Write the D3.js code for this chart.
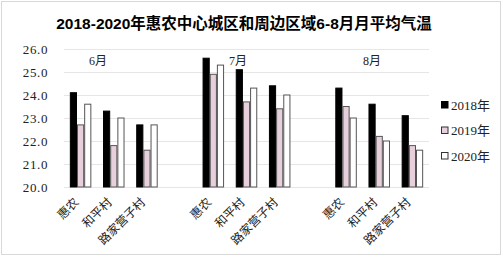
<!DOCTYPE html>
<html><head><meta charset="utf-8">
<script src="https://cdn.jsdelivr.net/npm/d3@7"></script>
<style>body{margin:0;background:#fff}svg{display:block}</style>
</head><body><svg id="c" width="503" height="257"></svg>
<script>
const title = "2018-2020年惠农中心城区和周边区域6-8月月平均气温";
const months = ["6月", "7月", "8月"];
const places = ["惠农", "和平村", "路家营子村"];
const seriesNames = ["2018年", "2019年", "2020年"];
const v2018 = [24.1, 23.3, 22.7, 25.6, 25.1, 24.4, 24.3, 23.6, 23.1];
const v2019 = [22.7, 21.8, 21.6, 24.9, 23.7, 23.4, 23.5, 22.2, 21.8];
const v2020 = [23.6, 23.0, 22.7, 25.3, 24.3, 24.0, 23.0, 22.0, 21.6];
const yTicks = [20, 21, 22, 23, 24, 25, 26];

const series = [v2018, v2019, v2020];
const fills = ["#000000", "#e8cfdc", "#ffffff"];
const strokes = ["#000000", "#555555", "#555555"];

const svg = d3.select("#c");
svg.append("rect").attr("x", 1.5).attr("y", 1.5).attr("width", 499).attr("height", 253)
  .attr("fill", "#fff").attr("stroke", "#d9d9d9");

svg.append("text").attr("x", 244).attr("y", 29).attr("text-anchor", "middle")
  .attr("font-family", "'Liberation Sans','Noto Sans CJK SC',sans-serif")
  .attr("font-weight", "bold").attr("font-size", 15.5).attr("fill", "#000").text(title);

const slots = [];
months.forEach((m, mi) => {
  places.forEach((p, pi) => slots.push({key: m + "-" + p, month: m, place: p, idx: mi * 3 + pi}));
  if (mi < months.length - 1) slots.push({key: "gap" + mi, gap: true});
});

const x = d3.scaleBand().domain(slots.map(s => s.key)).range([64, 429]).paddingInner(0).paddingOuter(0);
const y = d3.scaleLinear().domain([20, 26]).range([187, 49]);
const xs = d3.scaleBand().domain(seriesNames).range([0, 21.5]);

const serif = "'Liberation Serif','Noto Sans CJK SC',serif";

svg.append("g").selectAll("line").data(yTicks).join("line")
  .attr("x1", 64).attr("x2", 429)
  .attr("y1", d => Math.round(y(d)) + 0.5).attr("y2", d => Math.round(y(d)) + 0.5)
  .attr("stroke", "#e6e6e6").attr("stroke-width", 1);

const yAxis = d3.axisLeft(y).tickValues(yTicks).tickFormat(d => d3.format(".1f")(d)).tickSize(0).tickPadding(16);
const gy = svg.append("g").attr("transform", "translate(64,0)").call(yAxis);
gy.select(".domain").remove();
gy.selectAll("text").attr("font-family", serif).attr("font-size", 13).attr("fill", "#222").attr("letter-spacing", 0.6);

const dataSlots = slots.filter(s => !s.gap);
const cx = s => x(s.key) + x.bandwidth() / 2;
series.forEach((vals, si) => {
  svg.append("g").selectAll("rect").data(dataSlots).join("rect")
    .attr("x", s => cx(s) - 10.75 + xs(seriesNames[si]) + 0.5)
    .attr("y", s => y(vals[s.idx]))
    .attr("width", xs.bandwidth() - 1)
    .attr("height", s => y(20) - y(vals[s.idx]))
    .attr("fill", fills[si]).attr("stroke", strokes[si]).attr("stroke-width", 1);
});

const monthCenters = [98, 238, 372];
svg.append("g").selectAll("text").data(months).join("text")
  .attr("x", (d, i) => monthCenters[i]).attr("y", 65).attr("text-anchor", "middle")
  .attr("font-family", serif).attr("font-size", 12).attr("fill", "#222").text(d => d);

svg.append("g").selectAll("text").data(dataSlots).join("text")
  .attr("transform", s => `translate(${cx(s) - 4},${200}) rotate(-45)`)
  .attr("text-anchor", "end").attr("dy", "0.35em")
  .attr("font-family", "'Noto Sans CJK SC',sans-serif").attr("font-size", 12).attr("fill", "#222")
  .text(s => s.place);

const lg = svg.append("g").selectAll("g").data(seriesNames).join("g")
  .attr("transform", (d, i) => `translate(441,${105 + i * 25.5})`);
lg.append("rect").attr("x", 0.5).attr("y", -3.5).attr("width", 6.5).attr("height", 6.5)
  .attr("fill", (d, i) => fills[i]).attr("stroke", (d, i) => i === 0 ? "#000" : "#333");
lg.append("text").attr("x", 10).attr("y", 0).attr("dy", "0.35em")
  .attr("font-family", serif).attr("font-size", 13).attr("fill", "#222").text(d => d);
</script></body></html>
